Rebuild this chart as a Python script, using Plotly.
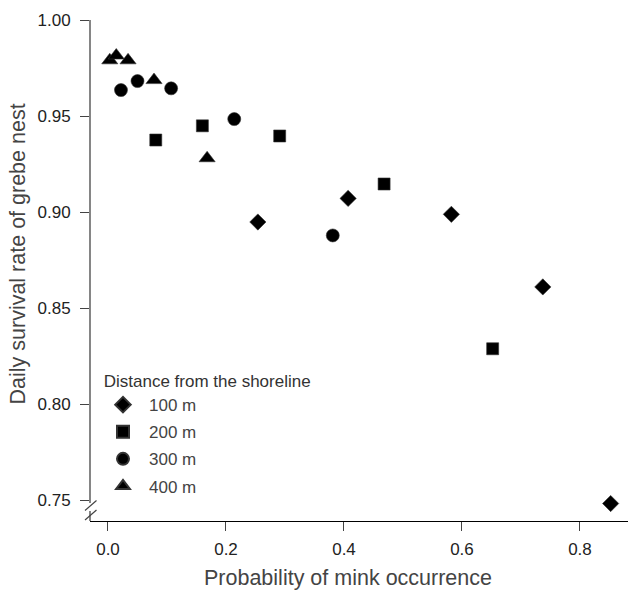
import plotly.graph_objects as go

# Data
x_100 = [0.254, 0.407, 0.582, 0.737, 0.852]
y_100 = [0.8948, 0.9071, 0.8988, 0.8610, 0.7482]

x_200 = [0.081, 0.160, 0.291, 0.468, 0.652]
y_200 = [0.9375, 0.9449, 0.9396, 0.9146, 0.8288]

x_300 = [0.022, 0.050, 0.107, 0.214, 0.381]
y_300 = [0.9635, 0.9682, 0.9644, 0.9484, 0.8878]

x_400 = [0.003, 0.014, 0.034, 0.078, 0.168]
y_400 = [0.9790, 0.9815, 0.9790, 0.9687, 0.9280]

series = [
    ("100 m", x_100, y_100, "diamond", 12.5),
    ("200 m", x_200, y_200, "square", 12),
    ("300 m", x_300, y_300, "circle", 13),
    ("400 m", x_400, y_400, "triangle-up", 14),
]

x_ticks = [0.0, 0.2, 0.4, 0.6, 0.8]
y_ticks = [0.75, 0.80, 0.85, 0.90, 0.95, 1.00]

x_title = "Probability of mink occurrence"
y_title = "Daily survival rate of grebe nest"
legend_title = "Distance from the shoreline"

W, H = 628, 592
L, R, T, B = 90, 0, 20, 71
plot_h = H - T - B
plot_w = W - L - R

fig = go.Figure()
for name, xs, ys, sym, sz in series:
    fig.add_trace(go.Scatter(
        x=xs, y=ys, mode="markers", name=name, legendgroup=name,
        marker=dict(symbol=sym, size=sz, color="black",
                    line=dict(width=0.6, color="#333333")),
    ))

def py(p):
    return (H - B - p) / plot_h

def px(p):
    return (p - L) / plot_w

axis_col = "#444444"
shapes = [
    # y axis line, top part (down to the break)
    dict(type="line", xref="paper", yref="paper", x0=0, x1=0, y0=py(503), y1=1,
         line=dict(color=axis_col, width=1.3)),
    # y axis line, bottom part
    dict(type="line", xref="paper", yref="paper", x0=0, x1=0, y0=0, y1=py(511),
         line=dict(color=axis_col, width=1.3)),
    # break slashes
    dict(type="line", xref="paper", yref="paper", x0=px(85), x1=px(96.5), y0=py(510.5), y1=py(500.5),
         line=dict(color=axis_col, width=1.2)),
    dict(type="line", xref="paper", yref="paper", x0=px(85), x1=px(96.5), y0=py(520), y1=py(510),
         line=dict(color=axis_col, width=1.2)),
]

annotations = [
    dict(text=x_title, xref="paper", yref="paper", x=px(348), y=py(591),
         xanchor="center", yanchor="bottom", showarrow=False, borderpad=0,
         font=dict(size=21.5, color="#444444")),
    dict(text=y_title, xref="paper", yref="paper", x=px(17.5), y=py(254),
         xanchor="center", yanchor="middle", showarrow=False, textangle=-90,
         font=dict(size=21.5, color="#444444")),
]

fig.update_layout(
    width=W, height=H,
    margin=dict(l=L, r=R, t=T, b=B),
    paper_bgcolor="white", plot_bgcolor="white",
    font=dict(family="Liberation Sans, Arial, sans-serif", color="#222222"),
    shapes=shapes,
    annotations=annotations,
    showlegend=True,
    legend=dict(
        title=dict(text="\u00a0" + legend_title, font=dict(size=17, color="#333333")),
        font=dict(size=17, color="#444444"),
        x=px(97), y=py(365), xanchor="left", yanchor="top",
        bgcolor="rgba(0,0,0,0)", itemsizing="constant",
        tracegroupgap=2, itemwidth=42,
    ),
    xaxis=dict(
        range=[-0.0305, 0.8814], tickvals=x_ticks, ticktext=[f"{v:.1f}" for v in x_ticks],
        showgrid=False, zeroline=False, showline=True, linecolor="black", linewidth=1.3,
        ticks="outside", ticklen=9, tickcolor=axis_col, tickwidth=1.2,
        tickfont=dict(size=17, color="#222222"), ticklabelstandoff=3,
    ),
    yaxis=dict(
        range=[0.7391, 1.0], tickvals=y_ticks, ticktext=[f"{v:.2f}" for v in y_ticks],
        showgrid=False, zeroline=False, showline=False,
        ticks="outside", ticklen=9, tickcolor=axis_col, tickwidth=1.2,
        tickfont=dict(size=17, color="#222222"), ticklabelstandoff=6,
    ),
)

fig.write_html("out.html")
